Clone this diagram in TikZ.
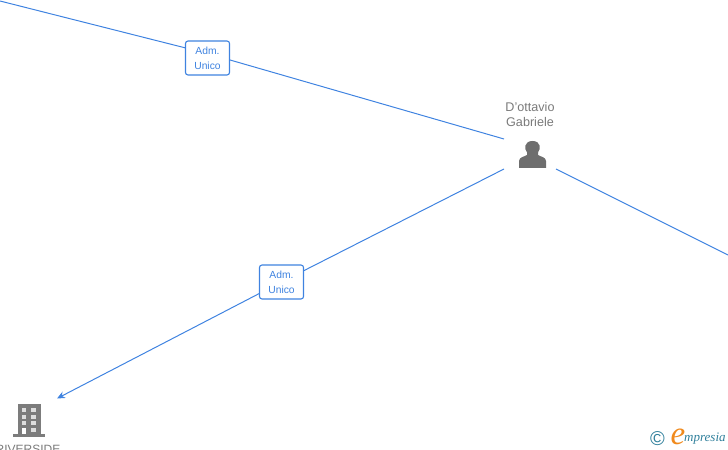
\documentclass[tikz,border=0pt]{standalone}
\usepackage{fontspec}
\usetikzlibrary{arrows.meta}
\setmainfont{Liberation Sans}
\newfontfamily\logofont{Liberation Serif}
\definecolor{linkblue}{HTML}{3F83E0}
\definecolor{icongray}{HTML}{6E6E6E}
\definecolor{buildgray}{HTML}{7C7C7C}
\definecolor{textgray}{HTML}{7A7A7A}
\definecolor{logoteal}{HTML}{2F7F9B}
\definecolor{logoorange}{HTML}{F08A1D}
\tikzset{
	rolebox/.style={draw=linkblue, line width=1.1pt, fill=white, rounded corners=2.5pt, minimum width=44bp, minimum height=34bp, inner sep=0pt, align=center, text=linkblue, font=\fontsize{10.3bp}{15bp}\selectfont},
	nametext/.style={text=textgray, align=center, inner sep=0pt, font=\fontsize{12.6bp}{15.5bp}\selectfont},
	link/.style={linkblue, line width=1pt}
}
\begin{document}
\begin{tikzpicture}[x=1bp, y=-1bp, >={Stealth[length=8bp, width=7bp]}]
			\useasboundingbox (0, 0) rectangle (728, 450);
			\clip (0, 0) rectangle (728, 450);
			\coordinate (topstart) at (0, 1);
			\coordinate (rolepass) at (207.5, 53.5);
			\coordinate (personin) at (504, 139);
			\coordinate (personout) at (504, 169);
			\coordinate (personright) at (556, 169);
			\coordinate (rightend) at (728, 255);
			\coordinate (buildingin) at (57, 398.5);
			\draw[link] (topstart) -- (rolepass) -- (personin);
			\node[rolebox] (roleone) at (207.5, 58) {\raisebox{-.7bp}{Adm.}\\[0pt]\raisebox{-.7bp}{Unico}};
			\node[rolebox] (roletwo) at (281.5, 282) {\raisebox{-.7bp}{Adm.}\\[0pt]\raisebox{-.7bp}{Unico}};
			\draw[link] (personout) -- (roletwo);
			\draw[link, ->] (roletwo) -- (buildingin);
			\draw[link] (personright) -- (rightend);
			\node[nametext] (person) at (530, 114.5) {D'ottavio\\Gabriele};
			% person icon
			\fill[icongray] (519, 168) -- (519, 161) .. controls (519, 157) and (525, 156.5) .. (527, 155) -- (527, 152.5) .. controls (524, 149) and (524, 141) .. (532.5, 141) .. controls (541, 141) and (541, 149) .. (538, 152.5) -- (538, 155) .. controls (540, 156.5) and (546, 157) .. (546, 161) -- (546, 168) -- cycle;
			% building icon
			\fill[buildgray] (17.5, 403.5) rectangle (40.5, 434);
			\fill[buildgray] (13, 434) rectangle (45, 437);
			\foreach \y in {408, 414.5, 421} {
				\fill[white!75!buildgray] (21.5, \y) rectangle (26, \y + 4);
				\fill[white!75!buildgray] (31, \y) rectangle (35.5, \y + 4);
			}
			\fill[white] (21.5, 427.5) rectangle (26, 434);
			\fill[white!75!buildgray] (31, 427.5) rectangle (35.5, 431.5);
			\node[nametext, font=\fontsize{12bp}{15bp}\selectfont] (building) at (28, 449.5) {RIVERSIDE};
			% logo
			\node[text=logoteal, inner sep=0pt, font=\fontsize{20bp}{20bp}\selectfont] (copyr) at (657.5, 438.5) {©};
			\node[text=logoorange, inner sep=0pt, font=\logofont\fontsize{33bp}{33bp}\selectfont\itshape] (logoe) at (678, 437) {e};
			\node[text=logoteal, inner sep=0pt, anchor=west, font=\logofont\fontsize{13bp}{15bp}\selectfont\itshape] (logotext) at (684, 439) {mpresia};
			\end{tikzpicture}
\end{document}
